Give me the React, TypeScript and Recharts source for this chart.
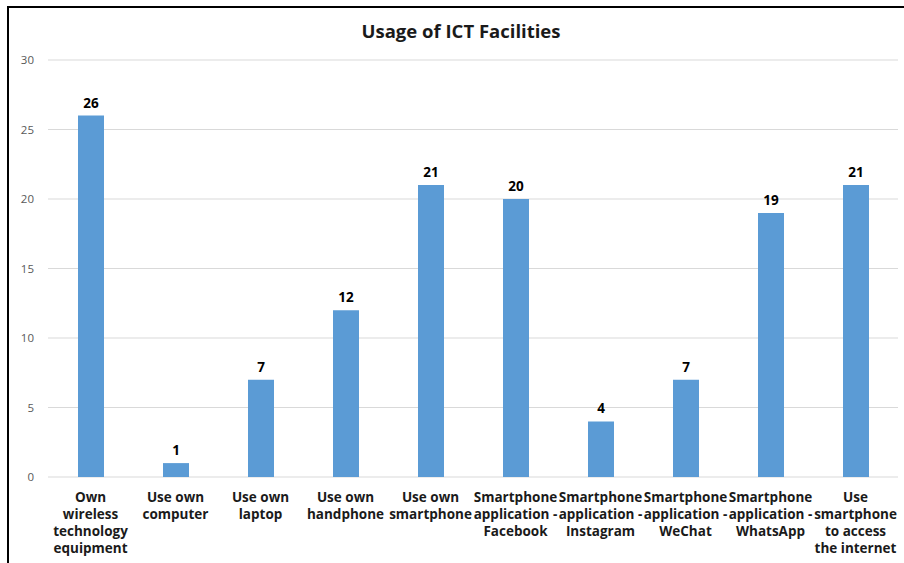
import React from 'react';
import { BarChart, Bar, XAxis, YAxis, CartesianGrid, LabelList } from 'recharts';

const categories = [
    'Own\nwireless\ntechnology\nequipment',
    'Use own\ncomputer',
    'Use own\nlaptop',
    'Use own\nhandphone',
    'Use own\nsmartphone',
    'Smartphone\napplication -\nFacebook',
    'Smartphone\napplication -\nInstagram',
    'Smartphone\napplication -\nWeChat',
    'Smartphone\napplication -\nWhatsApp',
    'Use\nsmartphone\nto access\nthe internet',
];

const counts = [26, 1, 7, 12, 21, 20, 4, 7, 19, 21];

const yTicks = [0, 5, 10, 15, 20, 25, 30];

const data = categories.map((name, i) => ({ name, count: counts[i] }));

const FONT = '"Open Sans", Lato, sans-serif';

const CategoryTick = (props: any) => {
    const { x, y, payload } = props;
    const lines = String(payload.value).split('\n');
    return (
        <text x={x} y={y} textAnchor="middle" fontFamily={FONT} fontSize={13.5} fontWeight={700} fill="#1a1a1a">
            {lines.map((line, i) => (
                <tspan key={i} x={x} y={y + 17 + i * 17}>
                    {line}
                </tspan>
            ))}
        </text>
    );
};

const App: React.FC = () => {
    return (
        <div style={{ position: 'absolute', left: 0, top: 0, width: 904, height: 563, overflow: 'hidden', background: '#fff' }}>
            <div
                style={{
                    position: 'absolute',
                    left: 7,
                    top: 6,
                    width: 940,
                    height: 600,
                    borderLeft: '2px solid #000',
                    borderTop: '2px solid #000',
                }}
            />
            <div
                style={{
                    position: 'absolute',
                    left: 0,
                    top: 18,
                    width: 922,
                    textAlign: 'center',
                    fontFamily: FONT,
                    fontWeight: 700,
                    fontSize: 18.5,
                    color: '#1a1a1a',
                }}
            >
                Usage of ICT Facilities
            </div>
            <div style={{ position: 'absolute', left: 0, top: 0 }}>
                <BarChart width={904} height={563} data={data} margin={{ top: 60, right: 6, left: 0, bottom: 6 }}>
                    <CartesianGrid stroke="#d9d9d9" vertical={false} />
                    <XAxis
                        dataKey="name"
                        axisLine={false}
                        tickLine={false}
                        interval={0}
                        height={80}
                        tick={<CategoryTick />}
                    />
                    <YAxis
                        domain={[0, 30]}
                        ticks={yTicks}
                        width={48}
                        axisLine={false}
                        tickLine={false}
                        tickMargin={8}
                        tick={{ fill: '#595959', fontSize: 11.5, fontFamily: FONT }}
                    />
                    <Bar dataKey="count" fill="#5B9BD5" barSize={26} isAnimationActive={false}>
                        <LabelList
                            dataKey="count"
                            position="top"
                            offset={8}
                            fill="#000"
                            fontSize={13.5}
                            fontWeight={700}
                            fontFamily={FONT}
                        />
                    </Bar>
                </BarChart>
            </div>
        </div>
    );
};

export default App;
